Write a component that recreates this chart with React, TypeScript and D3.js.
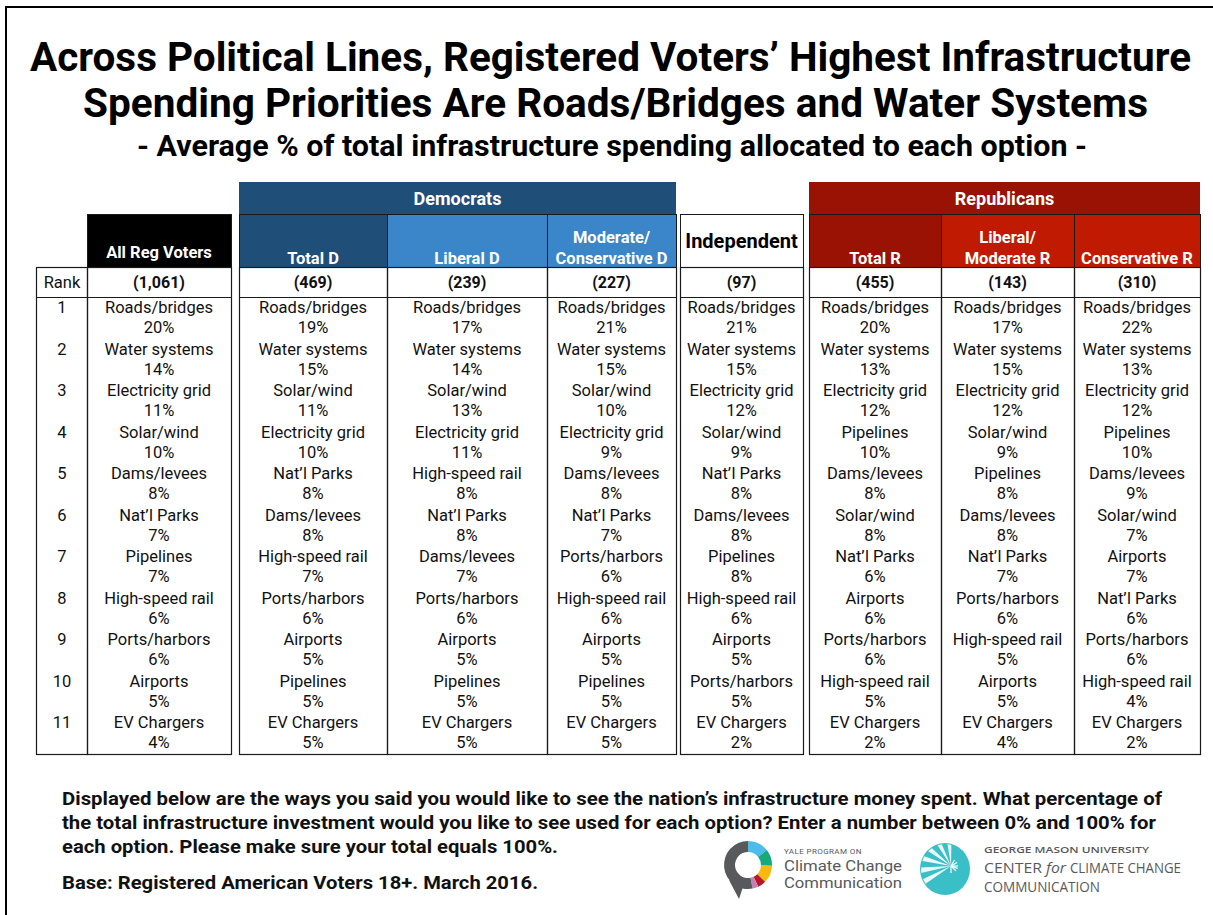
import React from 'react';
import * as d3 from 'd3';

// --- data ---
const ranks = [1, 2, 3, 4, 5, 6, 7, 8, 9, 10, 11];

const columnLabels = [
  ['All Reg Voters'],
  ['Total D'],
  ['Liberal D'],
  ['Moderate/', 'Conservative D'],
  ['Independent'],
  ['Total R'],
  ['Liberal/', 'Moderate R'],
  ['Conservative R'],
];
const sampleSizes = ['(1,061)', '(469)', '(239)', '(227)', '(97)', '(455)', '(143)', '(310)'];

const allRegItems = ['Roads/bridges', 'Water systems', 'Electricity grid', 'Solar/wind', 'Dams/levees', 'Nat’l Parks', 'Pipelines', 'High-speed rail', 'Ports/harbors', 'Airports', 'EV Chargers'];
const allRegPct = [20, 14, 11, 10, 8, 7, 7, 6, 6, 5, 4];

const totalDItems = ['Roads/bridges', 'Water systems', 'Solar/wind', 'Electricity grid', 'Nat’l Parks', 'Dams/levees', 'High-speed rail', 'Ports/harbors', 'Airports', 'Pipelines', 'EV Chargers'];
const totalDPct = [19, 15, 11, 10, 8, 8, 7, 6, 5, 5, 5];

const liberalDItems = ['Roads/bridges', 'Water systems', 'Solar/wind', 'Electricity grid', 'High-speed rail', 'Nat’l Parks', 'Dams/levees', 'Ports/harbors', 'Airports', 'Pipelines', 'EV Chargers'];
const liberalDPct = [17, 14, 13, 11, 8, 8, 7, 6, 5, 5, 5];

const modConsDItems = ['Roads/bridges', 'Water systems', 'Solar/wind', 'Electricity grid', 'Dams/levees', 'Nat’l Parks', 'Ports/harbors', 'High-speed rail', 'Airports', 'Pipelines', 'EV Chargers'];
const modConsDPct = [21, 15, 10, 9, 8, 7, 6, 6, 5, 5, 5];

const independentItems = ['Roads/bridges', 'Water systems', 'Electricity grid', 'Solar/wind', 'Nat’l Parks', 'Dams/levees', 'Pipelines', 'High-speed rail', 'Airports', 'Ports/harbors', 'EV Chargers'];
const independentPct = [21, 15, 12, 9, 8, 8, 8, 6, 5, 5, 2];

const totalRItems = ['Roads/bridges', 'Water systems', 'Electricity grid', 'Pipelines', 'Dams/levees', 'Solar/wind', 'Nat’l Parks', 'Airports', 'Ports/harbors', 'High-speed rail', 'EV Chargers'];
const totalRPct = [20, 13, 12, 10, 8, 8, 6, 6, 6, 5, 2];

const libModRItems = ['Roads/bridges', 'Water systems', 'Electricity grid', 'Solar/wind', 'Pipelines', 'Dams/levees', 'Nat’l Parks', 'Ports/harbors', 'High-speed rail', 'Airports', 'EV Chargers'];
const libModRPct = [17, 15, 12, 9, 8, 8, 7, 6, 5, 5, 4];

const consRItems = ['Roads/bridges', 'Water systems', 'Electricity grid', 'Pipelines', 'Dams/levees', 'Solar/wind', 'Airports', 'Nat’l Parks', 'Ports/harbors', 'High-speed rail', 'EV Chargers'];
const consRPct = [22, 13, 12, 10, 9, 7, 7, 6, 6, 4, 2];

const groupNames = ['Democrats', 'Republicans'];

const titleLines = [
  'Across Political Lines, Registered Voters’ Highest Infrastructure',
  'Spending Priorities Are Roads/Bridges and Water Systems',
];
const subtitle = '- Average % of total infrastructure spending allocated to each option -';
const noteLines = [
  'Displayed below are the ways you said you would like to see the nation’s infrastructure money spent. What percentage of',
  'the total infrastructure investment would you like to see used for each option? Enter a number between 0% and 100% for',
  'each option. Please make sure your total equals 100%.',
];
const baseNote = 'Base: Registered American Voters 18+. March 2016.';

// --- layout / style ---
const W = 1213;
const H = 915;
const DEM_DARK = '#1f4e79';
const DEM_LIGHT = '#3a86c8';
const REP_DARK = '#9a1204';
const REP_LIGHT = '#c11a02';
const LINE = '#1a1a1a';

const colX: [number, number][] = [
  [87, 231], [239, 387], [387, 547], [547, 676],
  [680, 803], [809, 941], [941, 1074], [1074, 1200],
];
const headerFill = ['#000', DEM_DARK, DEM_LIGHT, DEM_LIGHT, '#fff', REP_DARK, REP_LIGHT, REP_LIGHT];
const groupSpan = [[1, 3], [5, 7]];
const groupFill = [DEM_DARK, REP_DARK];

const GROUP_TOP = 182;
const HEAD_TOP = 214;
const HEAD_BOT = 267;
const RANK_BOT = 297;
const TABLE_BOT = 754;
const RANK_X: [number, number] = [36, 87];

const columns = [
  { items: allRegItems, pct: allRegPct },
  { items: totalDItems, pct: totalDPct },
  { items: liberalDItems, pct: liberalDPct },
  { items: modConsDItems, pct: modConsDPct },
  { items: independentItems, pct: independentPct },
  { items: totalRItems, pct: totalRPct },
  { items: libModRItems, pct: libModRPct },
  { items: consRItems, pct: consRPct },
];

const yRow = d3.scaleBand<number>().domain(ranks).range([RANK_BOT, TABLE_BOT]);
const fmtPct = (v: number) => `${v}%`;

const yaleArc = d3.arc<any>().innerRadius(13).outerRadius(24);
const yaleSegs = [
  { a0: 0, a1: 0.9, c: '#4cbde9' },
  { a0: 0.9, a1: 1.6, c: '#15a97c' },
  { a0: 1.6, a1: 2.35, c: '#f8b90f' },
  { a0: 2.35, a1: 2.7, c: '#b7172c' },
  { a0: 2.7, a1: 2.95, c: '#c67fb2' },
  { a0: 2.95, a1: Math.PI * 2, c: '#58595b' },
];

function Logos() {
  const cx = 748, cy = 865;
  const gx = 951, gy = 866;
  const rays = [150, 172, 195, 218, 242, 266];
  return (
    <g>
      <g transform={`translate(${cx},${cy})`}>
        {yaleSegs.map((s, i) => (
          <path key={i} d={yaleArc({ startAngle: s.a0, endAngle: s.a1 }) as string} fill={s.c} />
        ))}
        <path d="M -5,22 L -9,34 L -19,15 Z" fill="#58595b" />
      </g>
      <g fontFamily="Roboto" fill="#58595b">
        <text x={784} y={854} fontSize={8} letterSpacing={0.4}>YALE PROGRAM ON</text>
        <text x={784} y={871} fontSize={14.5} textLength={118} lengthAdjust="spacingAndGlyphs">Climate Change</text>
        <text x={784} y={888} fontSize={14.5} textLength={118} lengthAdjust="spacingAndGlyphs">Communication</text>
      </g>
      <ellipse cx={945} cy={869} rx={25} ry={26} fill="#3bbfc7" />
      {rays.map((a, i) => {
        const r1 = (a - 5) * Math.PI / 180, r2 = (a + 5) * Math.PI / 180;
        const L = 40;
        return (
          <path key={i}
            d={`M ${gx},${gy} L ${gx + L * Math.cos(r1)},${gy + L * Math.sin(r1)} L ${gx + L * Math.cos(r2)},${gy + L * Math.sin(r2)} Z`}
            fill="#fff" opacity={0.9}
            clipPath="url(#gmuclip)" />
        );
      })}
      {[0, 45, 90, 300, 330, 20].map((a, i) => {
        const r = a * Math.PI / 180;
        return <line key={i} x1={gx} y1={gy} x2={gx + 7 * Math.cos(r)} y2={gy + 7 * Math.sin(r)} stroke="#fff" strokeWidth={1.2} />;
      })}
      <g fontFamily="Open Sans" fill="#58595b">
        <text x={984} y={853} fontSize={9.5} fontWeight={600} textLength={165} lengthAdjust="spacingAndGlyphs">GEORGE MASON UNIVERSITY</text>
        <text x={984} y={873} fontSize={15} textLength={58} lengthAdjust="spacingAndGlyphs">CENTER</text>
        <text x={1046} y={873} fontSize={15} fontStyle="italic" textLength={20} lengthAdjust="spacingAndGlyphs">for</text>
        <text x={1070} y={873} fontSize={15} textLength={111} lengthAdjust="spacingAndGlyphs">CLIMATE CHANGE</text>
        <text x={984} y={892} fontSize={15} textLength={116} lengthAdjust="spacingAndGlyphs">COMMUNICATION</text>
      </g>
    </g>
  );
}

export default function App() {
  return (
    <svg width={W} height={H} style={{ position: 'absolute', left: 0, top: 0, background: '#fff' }} fontFamily="Roboto">
      <defs>
        <clipPath id="gmuclip"><ellipse cx={945} cy={869} rx={24} ry={25} /></clipPath>
      </defs>
      <rect x={0} y={0} width={W} height={H} fill="#fff" />
      <rect x={6} y={7} width={1240} height={940} fill="none" stroke="#000" strokeWidth={2} />

      {/* titles */}
      <g fontWeight={700} fill="#000" textAnchor="middle">
        <text x={610.5} y={71} fontSize={41} textLength={1161} lengthAdjust="spacingAndGlyphs">{titleLines[0]}</text>
        <text x={615.5} y={117} fontSize={41} textLength={1065} lengthAdjust="spacingAndGlyphs">{titleLines[1]}</text>
        <text x={612} y={156} fontSize={29.5} textLength={950} lengthAdjust="spacingAndGlyphs">{subtitle}</text>
      </g>

      {/* group headers */}
      {groupNames.map((g, i) => {
        const x0 = colX[groupSpan[i][0]][0];
        const x1 = colX[groupSpan[i][1]][1];
        return (
          <g key={g}>
            <rect x={x0} y={GROUP_TOP} width={x1 - x0} height={HEAD_TOP - GROUP_TOP} fill={groupFill[i]} />
            <text x={(x0 + x1) / 2} y={205} textAnchor="middle" fontSize={18} fontWeight={700} fill="#fff">{g}</text>
          </g>
        );
      })}

      {/* column headers and body cells */}
      {columns.map((col, ci) => {
        const [x0, x1] = colX[ci];
        const cx = (x0 + x1) / 2;
        const lines = columnLabels[ci];
        const isInd = ci === 4;
        return (
          <g key={ci}>
            <rect x={x0 + 0.5} y={HEAD_TOP + 0.5} width={x1 - x0} height={HEAD_BOT - HEAD_TOP} fill={headerFill[ci]} stroke={LINE} strokeWidth={1} />
            {isInd ? (
              <text x={cx} y={248} textAnchor="middle" fontSize={20} fontWeight={700} fill="#000">{lines[0]}</text>
            ) : lines.length === 2 ? (
              lines.map((l, li) => (
                <text key={li} x={cx} y={243 + li * 20.5} textAnchor="middle" fontSize={16.5} fontWeight={700} fill="#fff">{l}</text>
              ))
            ) : (
              <text x={cx} y={ci === 0 ? 258 : 264} textAnchor="middle" fontSize={16.5} fontWeight={700} fill="#fff">{lines[0]}</text>
            )}
            <rect x={x0 + 0.5} y={HEAD_BOT + 0.5} width={x1 - x0} height={TABLE_BOT - HEAD_BOT} fill="none" stroke={LINE} strokeWidth={1.2} />
            <line x1={x0} x2={x1 + 1} y1={RANK_BOT + 0.5} y2={RANK_BOT + 0.5} stroke={LINE} strokeWidth={1.2} />
            <text x={cx} y={288} textAnchor="middle" fontSize={16} fontWeight={700} fill="#111">{sampleSizes[ci]}</text>
            {ranks.map((r, ri) => (
              <g key={r}>
                <text x={cx} y={(yRow(r) as number) + 16} textAnchor="middle" fontSize={16.5} fill="#111">{col.items[ri]}</text>
                <text x={cx} y={(yRow(r) as number) + 36} textAnchor="middle" fontSize={16.5} fill="#111">{fmtPct(col.pct[ri])}</text>
              </g>
            ))}
          </g>
        );
      })}

      {/* rank column */}
      <g>
        <rect x={RANK_X[0] + 0.5} y={HEAD_BOT + 0.5} width={RANK_X[1] - RANK_X[0]} height={TABLE_BOT - HEAD_BOT} fill="none" stroke={LINE} strokeWidth={1.2} />
        <line x1={RANK_X[0]} x2={RANK_X[1]} y1={RANK_BOT + 0.5} y2={RANK_BOT + 0.5} stroke={LINE} strokeWidth={1.2} />
        <text x={(RANK_X[0] + RANK_X[1]) / 2 + 0.5} y={288} textAnchor="middle" fontSize={16.5} fill="#111">Rank</text>
        {ranks.map(r => (
          <text key={r} x={(RANK_X[0] + RANK_X[1]) / 2 + 0.5} y={(yRow(r) as number) + 16} textAnchor="middle" fontSize={16.5} fill="#111">{r}</text>
        ))}
      </g>

      {/* footnote */}
      <g fontWeight={700} fill="#111" fontSize={18.5}>
        <text x={62} y={805} textLength={1100} lengthAdjust="spacingAndGlyphs">{noteLines[0]}</text>
        <text x={62} y={829} textLength={1094} lengthAdjust="spacingAndGlyphs">{noteLines[1]}</text>
        <text x={62} y={853} textLength={496} lengthAdjust="spacingAndGlyphs">{noteLines[2]}</text>
        <text x={62} y={889} textLength={476} lengthAdjust="spacingAndGlyphs">{baseNote}</text>
      </g>

      <Logos />
    </svg>
  );
}
